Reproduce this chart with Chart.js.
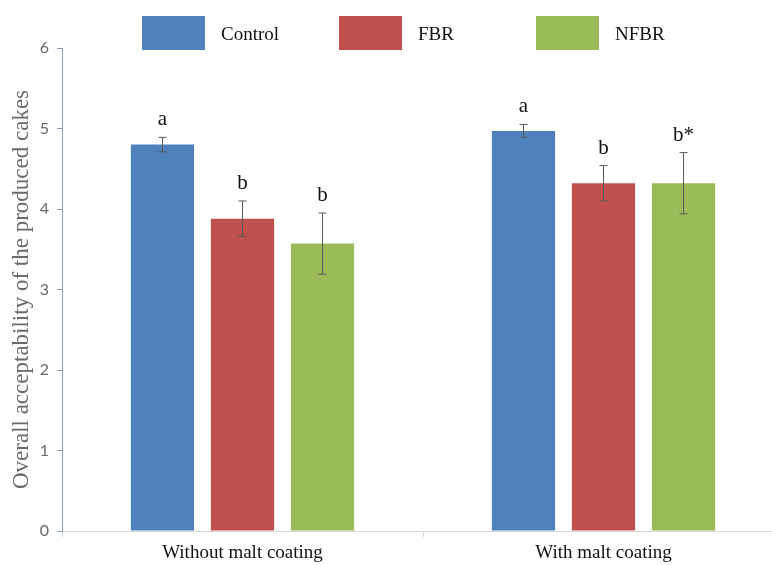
<!DOCTYPE html>
<html>
<head>
<meta charset="utf-8">
<script src="https://cdn.jsdelivr.net/npm/chart.js@4/dist/chart.umd.min.js"></script>
<style>
  html, body { margin: 0; padding: 0; background: #fff; overflow: hidden; }
  #wrap { width: 790px; height: 565px; }
</style>
</head>
<body>
<div id="wrap"><canvas id="c" width="790" height="565"></canvas></div>
<script>
const categories = ['Without malt coating', 'With malt coating'];
const seriesNames = ['Control', 'FBR', 'NFBR'];
const seriesColors = ['#4F81BD', '#C0504D', '#9BBB59'];
const controlMeans = [4.80, 4.97];
const fbrMeans = [3.88, 4.32];
const nfbrMeans = [3.57, 4.32];
const controlErr = [0.09, 0.08];
const fbrErr = [0.22, 0.22];
const nfbrErr = [0.38, 0.38];
const controlLetters = ['a', 'a'];
const fbrLetters = ['b', 'b'];
const nfbrLetters = ['b', 'b*'];
const yTicks = [0, 1, 2, 3, 4, 5, 6];
const yTitle = 'Overall acceptability of the produced cakes';

const errs = [controlErr, fbrErr, nfbrErr];
const letters = [controlLetters, fbrLetters, nfbrLetters];

const errorPlugin = {
  id: 'errorBars',
  afterDatasetsDraw(chart) {
    const ctx = chart.ctx;
    const y = chart.scales.y;
    chart.data.datasets.forEach((ds, di) => {
      const meta = chart.getDatasetMeta(di);
      meta.data.forEach((bar, i) => {
        const v = ds.data[i];
        const e = errs[di][i];
        const yTop = y.getPixelForValue(v + e);
        const yBot = y.getPixelForValue(v - e);
        const x = bar.x;
        ctx.save();
        ctx.strokeStyle = '#5a5a5a';
        ctx.lineWidth = 1;
        ctx.beginPath();
        ctx.moveTo(x, yTop); ctx.lineTo(x, yBot);
        ctx.moveTo(x - 4, yTop); ctx.lineTo(x + 4, yTop);
        ctx.moveTo(x - 4, yBot); ctx.lineTo(x + 4, yBot);
        ctx.stroke();
        ctx.fillStyle = '#111';
        ctx.font = '21px "Liberation Serif", "Times New Roman", serif';
        ctx.textAlign = 'center';
        ctx.textBaseline = 'alphabetic';
        ctx.fillText(letters[di][i], x, yTop - 12);
        ctx.restore();
      });
    });
  }
};

const legendPlugin = {
  id: 'customLegend',
  afterDraw(chart) {
    const ctx = chart.ctx;
    const startX = 142, stride = 197, top = 16, bw = 63, bh = 34;
    chart.data.datasets.forEach((ds, i) => {
      const x = startX + i * stride;
      ctx.save();
      ctx.fillStyle = ds.backgroundColor;
      ctx.fillRect(x, top, bw, bh);
      ctx.fillStyle = '#111';
      ctx.font = '19px "Liberation Serif", "Times New Roman", serif';
      ctx.textAlign = 'left';
      ctx.textBaseline = 'middle';
      ctx.fillText(ds.label, x + bw + 16, top + bh / 2 + 2);
      ctx.restore();
    });
  }
};

new Chart(document.getElementById('c'), {
  type: 'bar',
  data: {
    labels: categories,
    datasets: [
      { label: seriesNames[0], data: controlMeans, backgroundColor: seriesColors[0] },
      { label: seriesNames[1], data: fbrMeans, backgroundColor: seriesColors[1] },
      { label: seriesNames[2], data: nfbrMeans, backgroundColor: seriesColors[2] }
    ]
  },
  options: {
    responsive: false,
    animation: false,
    devicePixelRatio: 1,
    layout: { padding: { top: 48, right: 6, bottom: 0, left: 0 } },
    plugins: { legend: { display: false }, tooltip: { enabled: false } },
    datasets: { bar: { categoryPercentage: 0.665, barPercentage: 0.79 } },
    scales: {
      x: {
        grid: { display: true, drawOnChartArea: false, drawTicks: true, tickLength: 6, color: '#d9d9d9', offset: true },
        border: { display: true, color: '#d9d9d9' },
        ticks: { color: '#111', font: { family: '"Liberation Serif", "Times New Roman", serif', size: 19 }, padding: 5 },
        afterFit(scale) { scale.height = 34; }
      },
      y: {
        min: 0, max: 6,
        afterBuildTicks(scale) { scale.ticks = yTicks.map(v => ({ value: v })); },
        grid: { display: true, drawOnChartArea: false, drawTicks: true, tickLength: 5, color: '#8fa0b3' },
        border: { display: true, color: '#8fa0b3' },
        ticks: { color: '#6a6a6a', font: { family: 'Lato, "Open Sans", sans-serif', size: 16 }, padding: 8 },
        title: { display: true, text: yTitle, color: '#6a6a6a', font: { family: '"Liberation Serif", "Times New Roman", serif', size: 23 }, padding: { top: 8, bottom: 0 } },
        afterFit(scale) { scale.width = 62; }
      }
    }
  },
  plugins: [errorPlugin, legendPlugin]
});
</script>
</body>
</html>
